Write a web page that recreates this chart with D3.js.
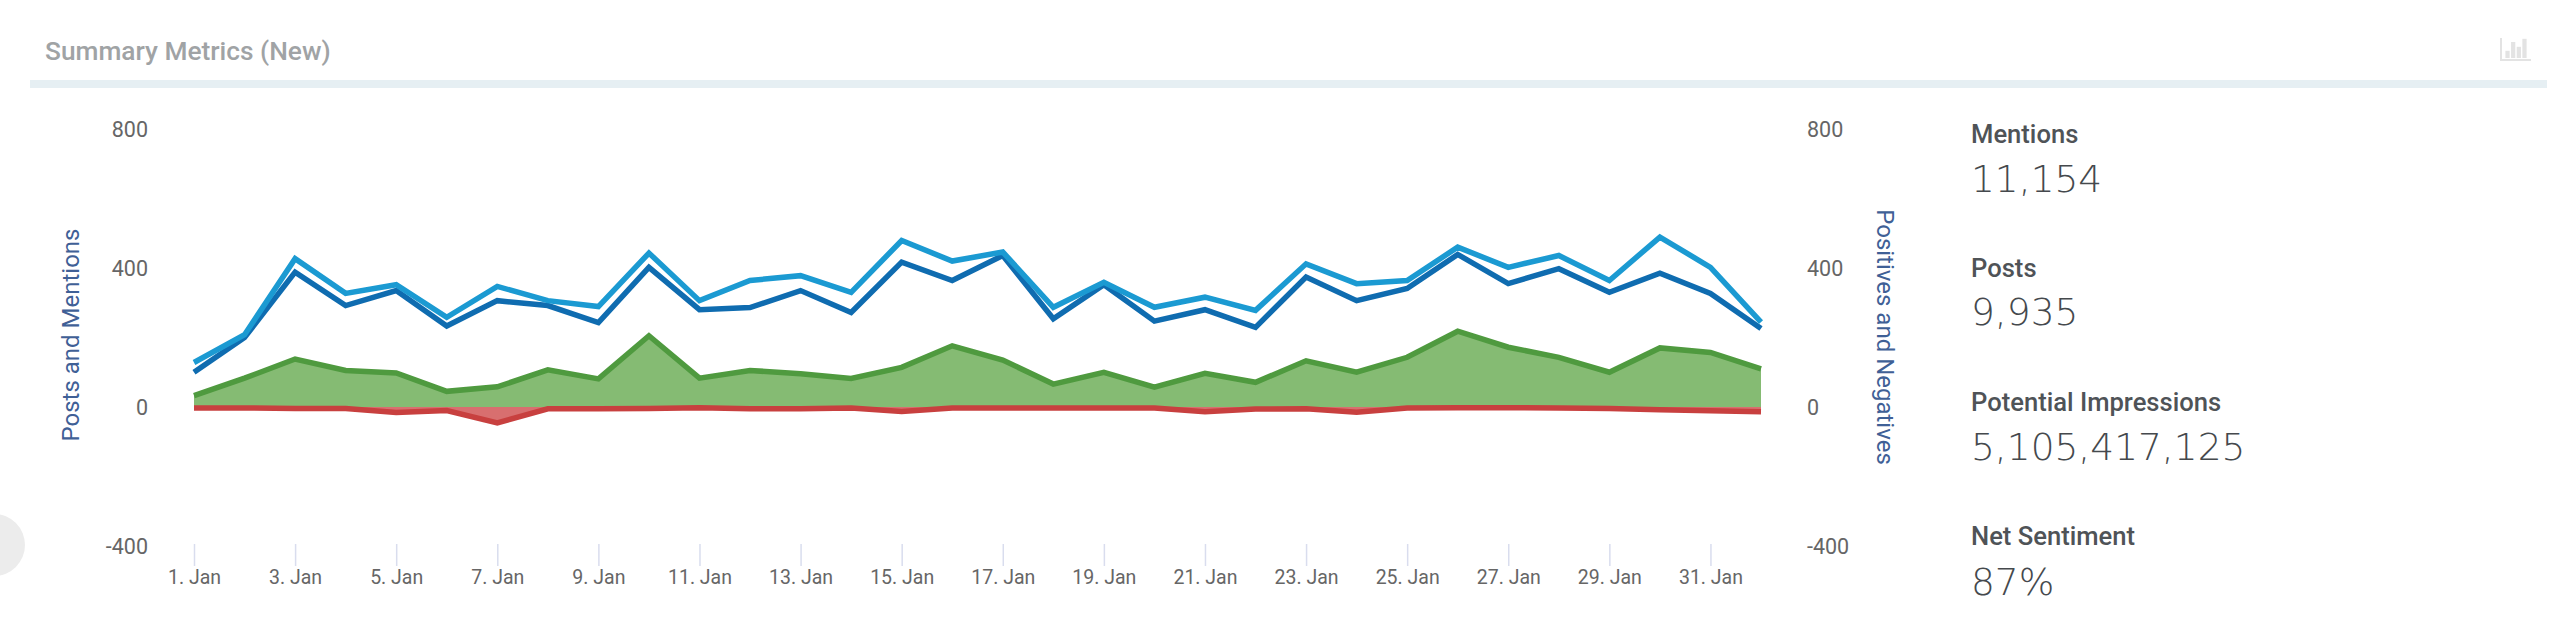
<!DOCTYPE html>
<html>
<head>
<meta charset="utf-8">
<script src="https://cdn.jsdelivr.net/npm/d3@7"></script>
<style>
html,body{margin:0;padding:0;background:#fff;overflow:hidden}
svg{display:block}
text{font-family:Roboto,sans-serif}
</style>
</head>
<body>
<svg id="c" width="2560" height="629"></svg>
<script>
const title = "Summary Metrics (New)";
const leftTitle = "Posts and Mentions";
const rightTitle = "Positives and Negatives";
const startDay = "2021-01-01";
const mentions = [128,208,427,327,352,258,347,306,289,443,306,364,378,330,479,420,446,287,359,287,316,278,412,355,364,460,402,436,364,489,402,244];
const posts = [100,200,388,292,335,233,306,292,243,402,280,286,335,272,417,364,436,254,352,247,280,229,374,306,341,439,355,398,330,385,327,226];
const positives = [33,83,138,105,98,45,58,107,81,205,83,105,96,82,114,176,135,66,100,57,97,71,133,100,143,218,172,143,100,170,157,110];
const negatives = [-3,-3,-4,-4,-16,-10,-46,-5,-5,-4,-2,-5,-5,-3,-13,-3,-3,-3,-3,-3,-14,-6,-5,-15,-3,-2,-2,-3,-4,-8,-11,-14];
const yTicks = [800,400,0,-400];
const metricNames = ["Mentions","Posts","Potential Impressions","Net Sentiment"];
const metricValues = ["11,154","9,935","5,105,417,125","87%"];
const iconBars = [9,20,14,24];

const svg = d3.select("#c");
const first = d3.utcParse("%Y-%m-%d")(startDay);
const dates = mentions.map((_, i) => d3.utcDay.offset(first, i));
const x = d3.scaleUtc().domain([dates[0], dates[dates.length - 1]]).range([194, 1761]);
const y = d3.scaleLinear().domain([-400, 800]).range([546, 129]);

// header
svg.append("text").attr("x", 45).attr("y", 60).attr("fill", "#a0a3a5")
  .attr("font-size", 26.3).attr("font-weight", 500).text(title);
svg.append("rect").attr("x", 30).attr("y", 80).attr("width", 2517).attr("height", 8).attr("fill", "#e6eff3");

// icon
const icon = svg.append("g").attr("fill", "#e3e3e3");
icon.append("rect").attr("x", 2500).attr("y", 38).attr("width", 2).attr("height", 23);
icon.append("rect").attr("x", 2500).attr("y", 59).attr("width", 31).attr("height", 2);
const iconX = d3.scaleBand().domain(d3.range(iconBars.length)).range([2504, 2528]).padding(0.25);
icon.selectAll(".b").data(iconBars).join("rect").attr("class", "b")
  .attr("x", (d, i) => iconX(i)).attr("width", iconX.bandwidth())
  .attr("y", d => 58 - d * 0.8).attr("height", d => d * 0.8);

// side handle
svg.append("circle").attr("cx", -6).attr("cy", 545).attr("r", 31).attr("fill", "#ececec");

// y tick labels
const tickStyle = s => s.attr("font-size", 21.5).attr("fill", "#666").attr("dominant-baseline", "central");
svg.append("g").selectAll("text").data(yTicks).join("text")
  .attr("x", 148).attr("y", d => y(d)).attr("text-anchor", "end").text(d => d).call(tickStyle);
svg.append("g").selectAll("text").data(yTicks).join("text")
  .attr("x", 1807).attr("y", d => y(d)).attr("text-anchor", "start").text(d => d).call(tickStyle);

// x axis
const xTicks = dates.filter((d, i) => i % 2 === 0 && i < 31);
const xAxis = d3.axisBottom(x).tickValues(xTicks).tickFormat(d3.utcFormat("%-d. Jan")).tickSize(22).tickPadding(0);
const gx = svg.append("g").attr("transform", "translate(0,544)").call(xAxis);
gx.select(".domain").remove();
gx.selectAll("line").attr("stroke", "#d9ddee").attr("stroke-width", 1.5);
gx.selectAll("text").attr("font-size", 19.5).attr("fill", "#666").attr("font-family", "Roboto, sans-serif")
  .attr("dy", null).attr("y", 40);

// axis titles
const axisTitle = (txt, cx, cy, rot) => svg.append("text")
  .attr("transform", `translate(${cx},${cy}) rotate(${rot})`)
  .attr("text-anchor", "middle").attr("dominant-baseline", "central")
  .attr("font-size", 24).attr("fill", "#3f6096").text(txt);
axisTitle(leftTitle, 71, 335, -90);
axisTitle(rightTitle, 1885, 337, 90);

// areas & lines
const area = d3.area().x((d, i) => x(dates[i])).y0(y(0)).y1(d => y(d));
const line = d3.line().x((d, i) => x(dates[i])).y(d => y(d));
svg.append("path").datum(positives).attr("d", area).attr("fill", "#85bb73");
svg.append("path").datum(negatives).attr("d", area).attr("fill", "#d86f6f");
const drawLine = (vals, col) => svg.append("path").datum(vals).attr("d", line)
  .attr("fill", "none").attr("stroke", col).attr("stroke-width", 5.5).attr("stroke-linejoin", "miter");
drawLine(positives, "#4f9a3f");
drawLine(negatives, "#c8403f");
drawLine(posts, "#0f6cb0");
drawLine(mentions, "#1b9ad2");

// metrics
const labelY = [143, 277, 411, 545];
const valueY = [192, 325, 460, 595];
const m = svg.append("g");
m.selectAll(".l").data(metricNames).join("text").attr("class", "l")
  .attr("x", 1971).attr("y", (d, i) => labelY[i]).attr("font-size", 25.6).attr("font-weight", 500)
  .attr("fill", "#4f5357").text(d => d);
m.selectAll(".v").data(metricValues).join("text").attr("class", "v")
  .attr("x", 1971).attr("y", (d, i) => valueY[i])
  .style("font-family", "'DejaVu Sans', sans-serif").attr("font-size", 37.5).attr("font-weight", 200)
  .attr("fill", "#45494d").text(d => d);
</script>
</body>
</html>
